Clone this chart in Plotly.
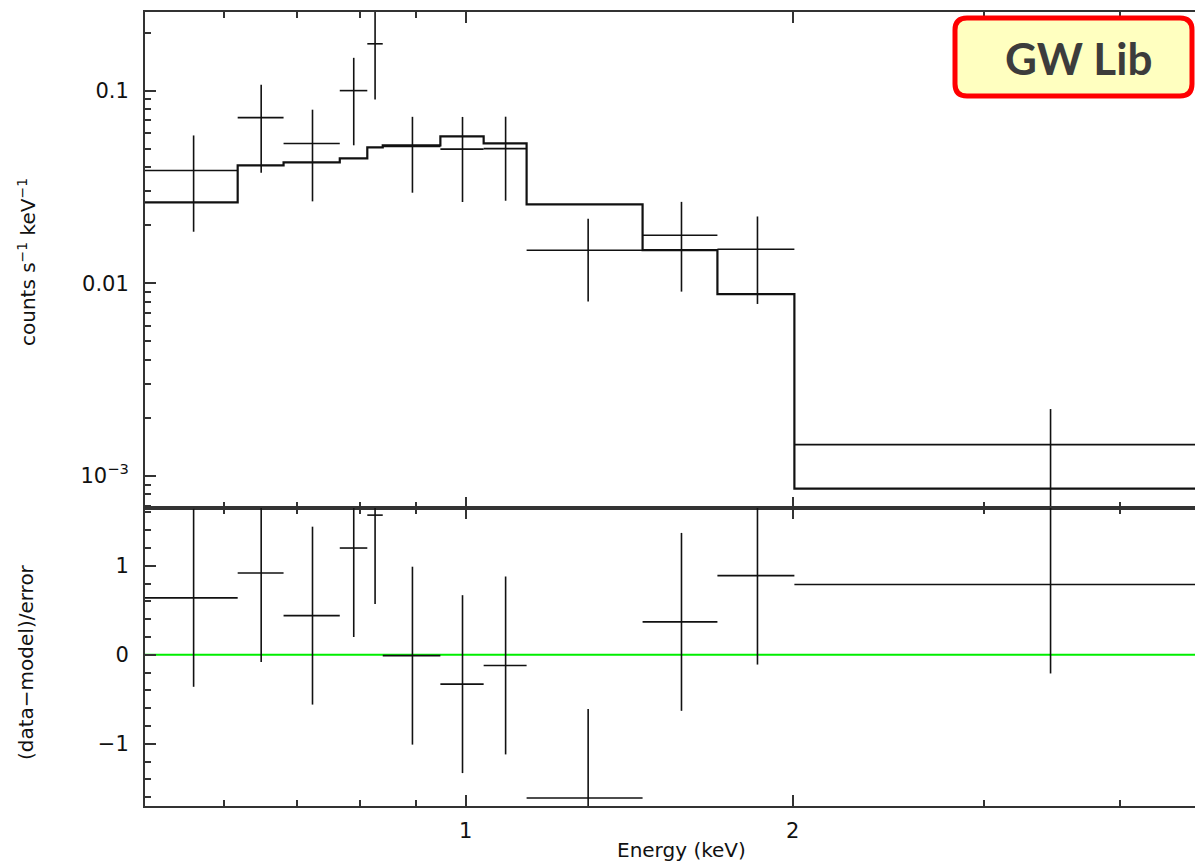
import plotly.graph_objects as go
import math

# ---- data ----
e_lo = [0.507, 0.617, 0.680, 0.766, 0.812, 0.839, 0.948, 1.039, 1.138, 1.455, 1.705, 2.007]
e_hi = [0.617, 0.680, 0.766, 0.812, 0.839, 0.948, 1.039, 1.138, 1.455, 1.705, 2.007, 4.9]
counts = [0.0385, 0.0724, 0.0531, 0.100, 0.175, 0.0513, 0.0497, 0.0500, 0.01483, 0.01774, 0.0150, 0.00145]
counts_err = [0.020, 0.035, 0.0265, 0.048, 0.085, 0.0218, 0.0233, 0.0232, 0.0068, 0.0087, 0.0072, 0.00077]
model = [0.0263, 0.0409, 0.0424, 0.0445, 0.0507, 0.0519, 0.0578, 0.0532, 0.02566, 0.01483, 0.00877, 0.000857]
resid = [0.64, 0.92, 0.44, 1.20, 1.57, -0.01, -0.33, -0.12, -1.61, 0.37, 0.89, 0.79]
resid_err = [1.0] * 12

x_range = [0.507, 4.69]
ytop_range = [6.8e-4, 0.256]
ybot_range = [-1.70, 1.65]
x_major = [1, 2]
x_minor = [0.6, 0.7, 0.8, 0.9, 3, 4]
ytop_major = [0.001, 0.01, 0.1]
ytop_labels = ["10<sup>−3</sup>", "0.01", "0.1"]
ybot_major = [-1, 0, 1]
ybot_labels = ["−1", "0", "1"]

centers = [(a + b) / 2 for a, b in zip(e_lo, e_hi)]
xm = [c - a for c, a in zip(centers, e_lo)]
xp = [b - c for c, b in zip(centers, e_hi)]
step_x = e_lo + [e_hi[-1]]
step_y = model + [model[-1]]

ytop_minor = []
for dec in [1e-4, 1e-3, 1e-2, 1e-1]:
    for k in range(2, 10):
        v = k * dec
        if ytop_range[0] <= v <= ytop_range[1]:
            ytop_minor.append(v)
ybot_minor = [round(-1.6 + 0.2 * i, 2) for i in range(17)]

LINE = "#111111"
FRAME = "#333333"
TICKFONT = dict(family="DejaVu Sans", size=21, color="#111111")
TITLEFONT = dict(family="DejaVu Sans", size=20, color="#111111")

# page body has an 8px margin: figure sits at (8, 8)
OFF = 8
PL, PT, PR, PB = 145, 12, 1195, 806   # plot area in page pixels
W, H = PR - OFF, 863 - OFF
ml, mt, mr, mb = PL - OFF, PT - OFF, 0, (OFF + H) - PB
pw, ph = PR - PL, PB - PT


def px(xp_):
    return (xp_ - PL) / pw


def py(yp_):
    return (PB - yp_) / ph


fig = go.Figure()

# top panel
fig.add_trace(go.Scatter(
    x=step_x, y=step_y, mode="lines", line=dict(color=LINE, width=2.2, shape="hv"),
    xaxis="x", yaxis="y", showlegend=False, hoverinfo="skip"))
fig.add_trace(go.Scatter(
    x=centers, y=counts, mode="markers", marker=dict(size=0.1, color=LINE),
    error_x=dict(type="data", symmetric=False, array=xp, arrayminus=xm, width=0, thickness=1.6, color=LINE),
    error_y=dict(type="data", array=counts_err, width=0, thickness=1.6, color=LINE),
    xaxis="x", yaxis="y", showlegend=False))

# bottom panel
fig.add_trace(go.Scatter(
    x=[x_range[0], x_range[1]], y=[0, 0], mode="lines", line=dict(color="#00ee00", width=2),
    xaxis="x2", yaxis="y2", showlegend=False, hoverinfo="skip"))
fig.add_trace(go.Scatter(
    x=centers, y=resid, mode="markers", marker=dict(size=0.1, color=LINE),
    error_x=dict(type="data", symmetric=False, array=xp, arrayminus=xm, width=0, thickness=1.6, color=LINE),
    error_y=dict(type="data", array=resid_err, width=0, thickness=1.6, color=LINE),
    xaxis="x2", yaxis="y2", showlegend=False))

split = py(508)

xcommon = dict(
    type="log", range=[math.log10(x_range[0]), math.log10(x_range[1])],
    showline=True, linecolor=FRAME, linewidth=2, mirror="ticks",
    ticks="inside", ticklen=11, tickwidth=1.6, tickcolor=FRAME,
    tickmode="array", tickvals=x_major, ticktext=[str(v) for v in x_major],
    minor=dict(tickmode="array", tickvals=x_minor, ticks="inside", ticklen=6, tickwidth=1.6, tickcolor=FRAME),
    showgrid=False, zeroline=False, tickfont=TICKFONT,
)

fig.update_layout(
    width=W, height=H,
    margin=dict(l=ml, r=mr, t=mt, b=mb, pad=0),
    paper_bgcolor="white", plot_bgcolor="white",
    xaxis=dict(**xcommon, anchor="y", showticklabels=False),
    xaxis2=dict(**xcommon, anchor="y2", matches="x", showticklabels=True, ticklabelstandoff=5),
    yaxis=dict(
        type="log", domain=[split, 1],
        range=[math.log10(ytop_range[0]), math.log10(ytop_range[1])],
        showline=True, linecolor=FRAME, linewidth=2, mirror=False,
        ticks="inside", ticklen=11, tickwidth=1.6, tickcolor=FRAME,
        tickmode="array", tickvals=ytop_major, ticktext=ytop_labels,
        minor=dict(tickmode="array", tickvals=ytop_minor, ticks="inside", ticklen=6, tickwidth=1.6, tickcolor=FRAME),
        showgrid=False, zeroline=False, tickfont=TICKFONT, ticklabelstandoff=10, anchor="x",
    ),
    yaxis2=dict(
        domain=[0, split], range=ybot_range,
        showline=True, linecolor=FRAME, linewidth=2, mirror=False,
        ticks="inside", ticklen=11, tickwidth=1.6, tickcolor=FRAME,
        tickmode="array", tickvals=ybot_major, ticktext=ybot_labels,
        minor=dict(tickmode="array", tickvals=ybot_minor, ticks="inside", ticklen=6, tickwidth=1.6, tickcolor=FRAME),
        showgrid=False, zeroline=False, tickfont=TICKFONT, ticklabelstandoff=10, anchor="x2",
    ),
)

# axis titles
fig.add_annotation(xref="paper", yref="paper", x=px(681), y=py(850),
                   text="Energy (keV)", showarrow=False, xanchor="center", yanchor="middle", font=TITLEFONT)
fig.add_annotation(xref="paper", yref="paper", x=px(27), y=py(262),
                   text="counts s<sup>−1</sup> keV<sup>−1</sup>", textangle=-90, showarrow=False,
                   xanchor="center", yanchor="middle", font=TITLEFONT)
fig.add_annotation(xref="paper", yref="paper", x=px(26), y=py(662),
                   text="(data−model)/error", textangle=-90, showarrow=False,
                   xanchor="center", yanchor="middle", font=TITLEFONT)

# GW Lib label box (rounded)
x0, x1 = px(955), px(1192)
y0, y1 = py(96), py(18)
rx, ry = 12 / pw, 12 / ph
path = (f"M {x0+rx},{y1} L {x1-rx},{y1} Q {x1},{y1} {x1},{y1-ry} L {x1},{y0+ry} "
        f"Q {x1},{y0} {x1-rx},{y0} L {x0+rx},{y0} Q {x0},{y0} {x0},{y0+ry} "
        f"L {x0},{y1-ry} Q {x0},{y1} {x0+rx},{y1} Z")
fig.add_shape(type="path", path=path, xref="paper", yref="paper",
              line=dict(color="#ff0000", width=5), fillcolor="#ffffc0", layer="above")
fig.add_annotation(xref="paper", yref="paper", x=px(1078), y=py(58),
                   text="<b>GW Lib</b>", showarrow=False, xanchor="center", yanchor="middle",
                   font=dict(family="Lato", size=44, color="#3c3c3c"))

fig.write_html("out.html")
